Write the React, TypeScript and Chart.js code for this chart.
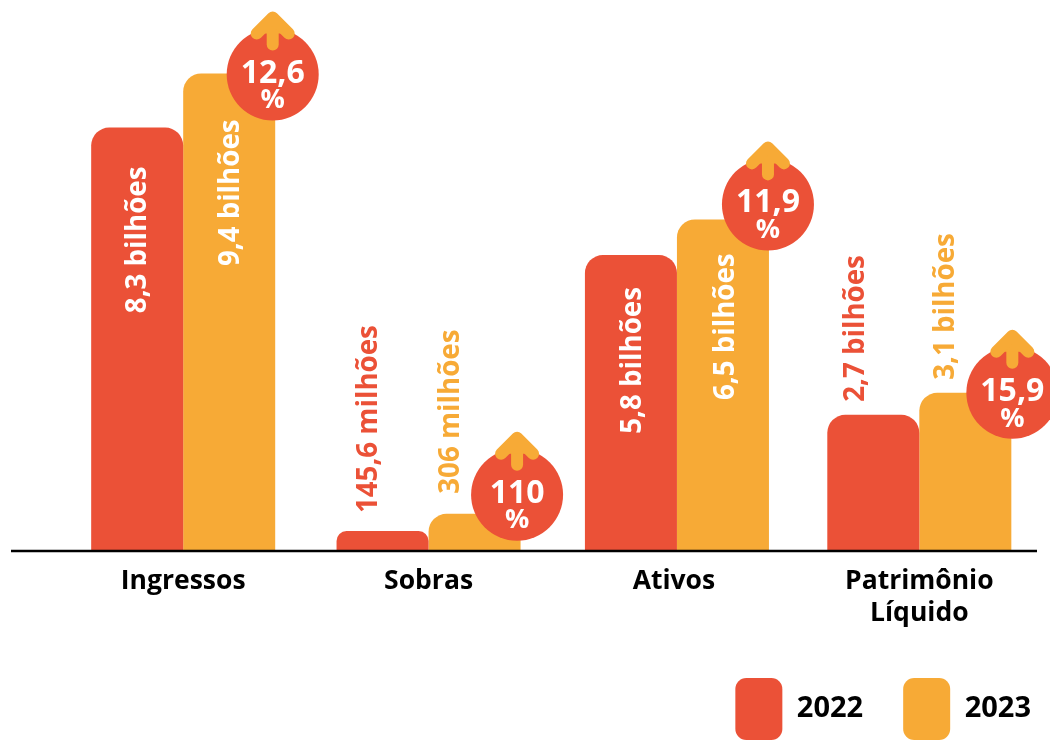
import React, { useEffect, useRef } from "react";
import { Chart, registerables } from "chart.js";

Chart.register(...registerables);

const categories = ["Ingressos", "Sobras", "Ativos", ["Patrimônio", "Líquido"]];
const seriesNames = ["2022", "2023"];
const heights2022 = [8.3, 0.39, 5.8, 2.67];
const heights2023 = [9.36, 0.73, 6.5, 3.1];
const labels2022 = ["8,3 bilhões", "145,6 milhões", "5,8 bilhões", "2,7 bilhões"];
const labels2023 = ["9,4 bilhões", "306 milhões", "6,5 bilhões", "3,1 bilhões"];
const growth = ["12,6", "110", "11,9", "15,9"];

const RED = "#EB5137";
const ORANGE = "#F7AA36";
const FONT = '"Open Sans", sans-serif';

// Layout tweaks for drawing only
const groupShift = [0, 0, 3, 0];
const labelGap2022 = [-39, 18, -32, 13];
const labelGap2023 = [-46, 20, -34, 13];
const labelDx2022 = [1, -13, 2, -17];
const labelDx2023 = [2, -23, 3, -19];
const badgeDx = [-2.5, -3.5, -1, 1];
const badgeDy = [1, -19, -15, 0];

const shiftPlugin = {
  id: "shiftGroups",
  afterLayout(chart: any) {
    chart.legend.left += 29;
    chart.legend.right += 29;
  },
  afterDatasetsUpdate(chart: any) {
    chart.data.datasets.forEach((_: any, d: number) => {
      chart.getDatasetMeta(d).data.forEach((el: any, i: number) => {
        el.x += groupShift[i];
      });
    });
  },
};

const annotatePlugin = {
  id: "annotate",
  afterDatasetsDraw(chart: any) {
    const ctx = chart.ctx;
    const meta0 = chart.getDatasetMeta(0).data;
    const meta1 = chart.getDatasetMeta(1).data;

    // baseline
    ctx.save();
    ctx.strokeStyle = "#000";
    ctx.lineWidth = 2.5;
    ctx.beginPath();
    ctx.moveTo(11, chart.scales.y.getPixelForValue(0));
    ctx.lineTo(1037, chart.scales.y.getPixelForValue(0));
    ctx.stroke();
    ctx.restore();

    // rotated value labels
    const drawLabel = (el: any, text: string, gap: number, dx: number, color: string) => {
      ctx.save();
      ctx.translate(el.x + dx, el.y - gap);
      ctx.rotate(-Math.PI / 2);
      ctx.font = `bold 27.7px ${FONT}`;
      ctx.fillStyle = color;
      ctx.textAlign = gap < 0 ? "right" : "left";
      ctx.textBaseline = "middle";
      ctx.fillText(text, 0, 0);
      ctx.restore();
    };
    meta0.forEach((el: any, i: number) =>
      drawLabel(el, labels2022[i], labelGap2022[i], labelDx2022[i], labelGap2022[i] < 0 ? "#fff" : RED)
    );
    meta1.forEach((el: any, i: number) =>
      drawLabel(el, labels2023[i], labelGap2023[i], labelDx2023[i], labelGap2023[i] < 0 ? "#fff" : ORANGE)
    );

    // growth badges
    meta1.forEach((el: any, i: number) => {
      const cx = el.x + el.width / 2 + badgeDx[i];
      const cy = el.y + badgeDy[i];
      ctx.save();
      ctx.fillStyle = RED;
      ctx.beginPath();
      ctx.arc(cx, cy, 46, 0, Math.PI * 2);
      ctx.fill();

      ctx.strokeStyle = ORANGE;
      ctx.fillStyle = ORANGE;
      ctx.lineWidth = 12;
      ctx.lineCap = "round";
      ctx.lineJoin = "round";
      ctx.beginPath();
      ctx.moveTo(cx, cy - 30);
      ctx.lineTo(cx, cy - 56);
      ctx.stroke();
      ctx.beginPath();
      ctx.moveTo(cx - 16, cy - 41);
      ctx.lineTo(cx, cy - 57);
      ctx.lineTo(cx + 16, cy - 41);
      ctx.closePath();
      ctx.fill();
      ctx.beginPath();
      ctx.moveTo(cx - 16, cy - 41);
      ctx.lineTo(cx, cy - 57);
      ctx.lineTo(cx + 16, cy - 41);
      ctx.stroke();

      ctx.fillStyle = "#fff";
      ctx.textAlign = "center";
      ctx.textBaseline = "middle";
      ctx.font = `bold 32px ${FONT}`;
      ctx.fillText(growth[i], cx, cy - 1);
      ctx.font = `bold 27px ${FONT}`;
      ctx.fillText("%", cx, cy + 26);
      ctx.restore();
    });
  },
};

export default function App() {
  const ref = useRef<HTMLCanvasElement>(null);
  useEffect(() => {
    document.body.style.margin = "0";
    document.body.style.background = "#fff";
    const radius = { topLeft: 18, topRight: 18, bottomLeft: 0, bottomRight: 0 };
    const chart = new Chart(ref.current as HTMLCanvasElement, {
      type: "bar",
      data: {
        labels: categories as any,
        datasets: [
          { label: seriesNames[0], data: heights2022, backgroundColor: RED, borderRadius: radius, borderSkipped: false },
          { label: seriesNames[1], data: heights2023, backgroundColor: ORANGE, borderRadius: radius, borderSkipped: false },
        ],
      },
      options: {
        responsive: false,
        animation: false,
        layout: { padding: { left: 60.5, right: 8, top: 0, bottom: -10 } },
        datasets: { bar: { categoryPercentage: 0.75, barPercentage: 1 } },
        scales: {
          x: {
            grid: { display: false },
            border: { display: false },
            afterFit(scale: any) {
              scale.height = 87;
            },
            ticks: {
              color: "#000",
              font: { family: FONT, weight: "bold", size: 26.5, lineHeight: 1.21 },
              padding: 6,
              maxRotation: 0,
              autoSkip: false,
            },
          },
          y: { display: false, min: 0, max: 10.8 },
        },
        plugins: {
          tooltip: { enabled: false },
          legend: {
            position: "bottom",
            align: "end",
            labels: {
              boxWidth: 47,
              boxHeight: 62,
              padding: 40,
              useBorderRadius: true,
              borderRadius: 11,
              color: "#000",
              font: { family: FONT, weight: "bold", size: 29 },
            },
          },
        },
      } as any,
      plugins: [shiftPlugin, annotatePlugin],
    });
    return () => chart.destroy();
  }, []);
  return <canvas ref={ref} width={1050} height={740} style={{ display: "block" }} />;
}
